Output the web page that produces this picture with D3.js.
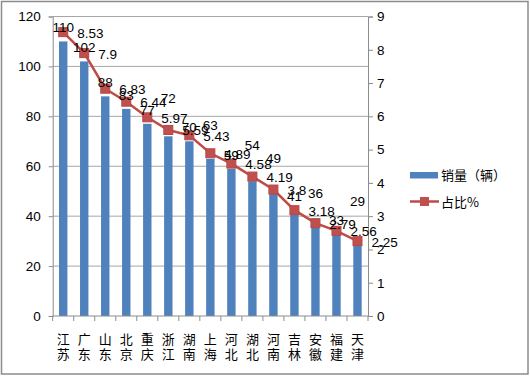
<!DOCTYPE html>
<html>
<head>
<meta charset="utf-8">
<script src="https://cdn.jsdelivr.net/npm/d3@7"></script>
<style>
  body { margin: 0; background: #fff; }
  text { font-family: "Liberation Sans", Arial, "Noto Sans CJK SC", sans-serif; }
</style>
</head>
<body>
<div id="chart"></div>
<script>
const provinces = ["江苏", "广东", "山东", "北京", "重庆", "浙江", "湖南", "上海", "河北", "湖北", "河南", "吉林", "安徽", "福建", "天津"];
const sales = [110, 102, 88, 83, 77, 72, 70, 63, 59, 54, 49, 41, 36, 33, 29];
const shares = [8.53, 7.9, 6.83, 6.44, 5.97, 5.59, 5.43, 4.89, 4.58, 4.19, 3.8, 3.18, 2.79, 2.56, 2.25];
const leftTicks = [0, 20, 40, 60, 80, 100, 120];
const rightTicks = [0, 1, 2, 3, 4, 5, 6, 7, 8, 9];
const seriesNames = ["销量（辆）", "占比%"];

const data = provinces.map((p, i) => ({ province: p, sales: sales[i], share: shares[i] }));

const W = 530, H = 376;
const plot = { left: 52.7, right: 368, top: 16.5, bottom: 316 };

const svg = d3.select("#chart")
  .append("svg")
  .attr("width", W)
  .attr("height", H);

// outer frame
svg.append("rect")
  .attr("x", 1.5).attr("y", 1.5)
  .attr("width", W - 3.5).attr("height", H - 3.5)
  .attr("fill", "#fff")
  .attr("stroke", "#8c8c8c")
  .attr("stroke-width", 1.5);

const x = d3.scaleBand()
  .domain(provinces)
  .range([plot.left, plot.right]);
const cx = d => x(d.province) + x.bandwidth() / 2;

const y = d3.scaleLinear().domain([0, 120]).range([plot.bottom, plot.top]);
const y2 = d3.scaleLinear().domain([0, 9]).range([plot.bottom, plot.top]);

// gridlines
svg.append("g")
  .selectAll("line")
  .data(leftTicks.slice(1))
  .enter()
  .append("line")
  .attr("x1", plot.left).attr("x2", plot.right)
  .attr("y1", d => y(d)).attr("y2", d => y(d))
  .attr("stroke", "#a6a6a6")
  .attr("stroke-width", 1);

// left axis
const axL = svg.append("g")
  .attr("transform", `translate(${plot.left},0)`)
  .call(d3.axisLeft(y).tickValues(leftTicks).tickSize(4).tickPadding(8));
axL.selectAll("text").style("font-size", "13.5px").attr("fill", "#000");

// right axis
const axR = svg.append("g")
  .attr("transform", `translate(${plot.right},0)`)
  .call(d3.axisRight(y2).tickValues(rightTicks).tickSize(5).tickPadding(4));
axR.selectAll("text").style("font-size", "13.5px").attr("fill", "#000");

[axL, axR].forEach(ax => {
  ax.select(".domain").attr("stroke", "#8c8c8c");
  ax.selectAll(".tick line").attr("stroke", "#8c8c8c");
});

// bars
svg.append("g")
  .selectAll("rect")
  .data(data)
  .enter()
  .append("rect")
  .attr("x", d => cx(d) - 4.2)
  .attr("width", 8.4)
  .attr("y", d => y(d.sales))
  .attr("height", d => plot.bottom - y(d.sales))
  .attr("fill", "#4f81bd");

// x axis
svg.append("line")
  .attr("x1", plot.left).attr("x2", plot.right)
  .attr("y1", plot.bottom).attr("y2", plot.bottom)
  .attr("stroke", "#8c8c8c");

svg.append("g")
  .selectAll("line")
  .data(d3.range(provinces.length + 1))
  .enter()
  .append("line")
  .attr("x1", i => plot.left + i * x.step())
  .attr("x2", i => plot.left + i * x.step())
  .attr("y1", plot.bottom).attr("y2", plot.bottom + 5)
  .attr("stroke", "#8c8c8c");

// vertical category labels (one char per line)
svg.append("g")
  .selectAll("text")
  .data(provinces)
  .enter()
  .append("text")
  .attr("text-anchor", "middle")
  .style("font-size", "13px")
  .style("font-family", "'Noto Sans CJK SC', sans-serif")
  .each(function(d) {
    const t = d3.select(this);
    d.split("").forEach((ch, k) => {
      t.append("tspan")
        .attr("x", x(d) + x.bandwidth() / 2)
        .attr("y", 344 + k * 15)
        .text(ch);
    });
  });

// share line
const line = d3.line()
  .x(cx)
  .y(d => y2(d.share));

svg.append("path")
  .datum(data)
  .attr("d", line)
  .attr("fill", "none")
  .attr("stroke", "#be4b48")
  .attr("stroke-width", 2.5);

svg.append("g")
  .selectAll("rect")
  .data(data)
  .enter()
  .append("rect")
  .attr("x", d => cx(d) - 4.5)
  .attr("y", d => y2(d.share) - 4.5)
  .attr("width", 9).attr("height", 9)
  .attr("fill", "#c0504d")
  .attr("stroke", "#b84744")
  .attr("stroke-width", 1);

// bar value labels; a few were dragged up in the original to clear the line
const barLabelLift = [0, 0, 0, 0, 0, 24, 0, 20, 0, 22, 22, 4, 19, 0, 29];
svg.append("g")
  .selectAll("text")
  .data(data)
  .enter()
  .append("text")
  .attr("x", cx)
  .attr("y", (d, i) => y(d.sales) - 9 - barLabelLift[i])
  .attr("text-anchor", "middle")
  .style("font-size", "13.5px")
  .text(d => d.sales);

// share value labels
svg.append("g")
  .selectAll("text")
  .data(data)
  .enter()
  .append("text")
  .attr("x", d => cx(d) + 14)
  .attr("y", d => y2(d.share) + 5.5)
  .style("font-size", "13.5px")
  .text(d => d.share);

// legend
const lg = svg.append("g").attr("transform", "translate(410,0)");
lg.append("rect")
  .attr("x", 0).attr("y", 172)
  .attr("width", 28).attr("height", 6.5)
  .attr("fill", "#4f81bd");
lg.append("text")
  .attr("x", 31).attr("y", 180)
  .style("font-size", "13px")
  .style("font-family", "'Noto Sans CJK SC', sans-serif")
  .text(seriesNames[0]);
lg.append("line")
  .attr("x1", 0).attr("x2", 29)
  .attr("y1", 201.5).attr("y2", 201.5)
  .attr("stroke", "#be4b48")
  .attr("stroke-width", 2.5);
lg.append("rect")
  .attr("x", 10).attr("y", 197)
  .attr("width", 9).attr("height", 9)
  .attr("fill", "#c0504d");
lg.append("text")
  .attr("x", 31).attr("y", 207)
  .style("font-size", "13px")
  .style("font-family", "'Noto Sans CJK SC', sans-serif")
  .text(seriesNames[1]);
</script>
</body>
</html>
